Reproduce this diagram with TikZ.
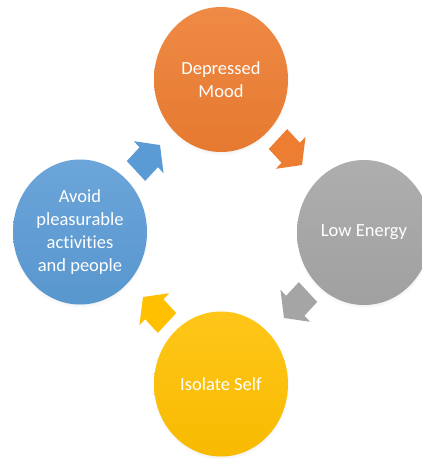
\documentclass[tikz,border=0pt]{standalone}
\usepackage{fontspec}
\setmainfont{Carlito}[Ligatures=NoCommon]
\usetikzlibrary{shadows,shapes.geometric}
\definecolor{cOrange}{HTML}{ED7D31}
\definecolor{cGray}{HTML}{A5A5A5}
\definecolor{cYellow}{HTML}{FFC000}
\definecolor{cBlue}{HTML}{5B9BD5}
\tikzset{
  stage/.style={ellipse, minimum width=134pt, minimum height=145pt, inner sep=0pt, text=white,
    font=\fontsize{18.5}{23}\selectfont, align=center,
    top color=#1!90!white, bottom color=#1!97!black,
    circular drop shadow={shadow xshift=0pt, shadow yshift=-2pt, shadow scale=1.02, opacity=0.25}},
  cyclearrow/.pic={\fill[pic actions] (-17,-13) -- (1,-13) -- (1,-21) -- (17,0) -- (1,21) -- (1,13) -- (-17,13) -- cycle;}
}
\begin{document}
\begin{tikzpicture}[x=1pt,y=1pt]
\useasboundingbox (0,0) rectangle (422,-459);
\clip (0,0) rectangle (422,-459);
\fill[white] (0,0) rectangle (422,-459);
\node[stage=cOrange] (mood) at (221,-79.5) {Depressed\\Mood};
\node[stage=cGray] (energy) at (364,-232.5) {Low Energy};
\node[stage=cYellow] (isolate) at (221,-384) {Isolate Self};
\node[stage=cBlue] (avoid) at (80,-232) {Avoid\\pleasurable\\activities\\and people};
\pic[fill=cOrange, yscale=1.08, rotate=-45] at (290,-152) {cyclearrow};
\pic[fill=cGray, yscale=1.08, rotate=-135] at (296,-305) {cyclearrow};
\pic[fill=cYellow, yscale=1.08, rotate=135] at (155,-310) {cyclearrow};
\pic[fill=cBlue, yscale=1.08, rotate=45] at (148,-158) {cyclearrow};
\end{tikzpicture}
\end{document}
